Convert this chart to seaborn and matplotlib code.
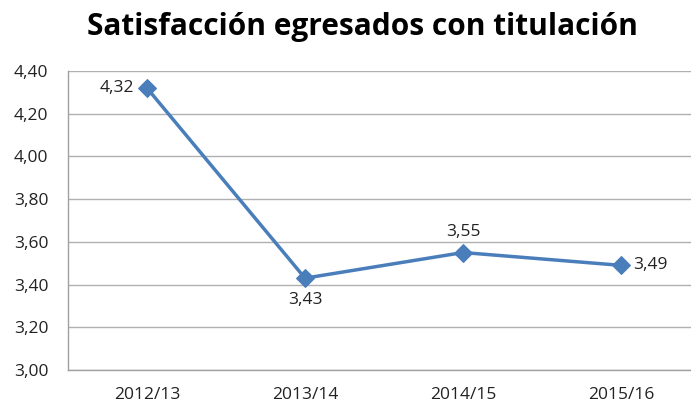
import matplotlib
matplotlib.use("Agg")
import matplotlib.pyplot as plt
import seaborn as sns
import pandas as pd

categories = ["2012/13", "2013/14", "2014/15", "2015/16"]
values = [4.32, 3.43, 3.55, 3.49]
label_pos = ["left", "below", "above", "right"]
yticks = [3.0, 3.2, 3.4, 3.6, 3.8, 4.0, 4.2, 4.4]

sns.set_theme(style="white")
plt.rcParams['font.family'] = ['Open Sans', 'DejaVu Sans']

df = pd.DataFrame({"curso": categories, "valor": values})

fs = 12.5
fig = plt.figure(figsize=(6.91, 4.05), dpi=100)
ax = fig.add_axes([68/691, 1-370/405, 632/691, 299/405])
sns.lineplot(data=df, x="curso", y="valor", ax=ax, color="#4a7ebb", linewidth=2.5,
             marker="D", markersize=9, markeredgecolor="#4a7ebb", sort=False)

ax.set_xlim(-0.5, 3.5)
ax.set_ylim(3.0, 4.4)
ax.set_yticks(yticks)
ax.set_yticklabels([f"{v:.2f}".replace(".", ",") for v in yticks])
ax.yaxis.grid(True, color="#b0b0b0", linewidth=1)
ax.set_axisbelow(True)
ax.set_xlabel("")
ax.set_ylabel("")
for s in ax.spines.values():
    s.set_color("#a0a0a0")
    s.set_linewidth(1)
ax.spines["top"].set_visible(False)
ax.tick_params(axis="both", labelsize=fs, colors="#222222", length=0)
ax.tick_params(axis="x", pad=12)
ax.tick_params(axis="y", pad=14)

for i, (v, p) in enumerate(zip(values, label_pos)):
    t = f"{v:.2f}".replace(".", ",")
    if p == "left":
        ax.annotate(t, (i, v), xytext=(-9, 0), textcoords="offset points", ha="right", va="center", fontsize=fs, color="#222222")
    elif p == "right":
        ax.annotate(t, (i, v), xytext=(9, 0), textcoords="offset points", ha="left", va="center", fontsize=fs, color="#222222")
    elif p == "above":
        ax.annotate(t, (i, v), xytext=(0, 9), textcoords="offset points", ha="center", va="bottom", fontsize=fs, color="#222222")
    else:
        ax.annotate(t, (i, v), xytext=(0, -10), textcoords="offset points", ha="center", va="top", fontsize=fs, color="#222222")

fig.text(362/691, 1-27/405, "Satisfacción egresados con titulación", ha="center", va="center",
         fontsize=21.5, fontweight="bold", color="black")

fig.savefig("out.png", dpi=100)
